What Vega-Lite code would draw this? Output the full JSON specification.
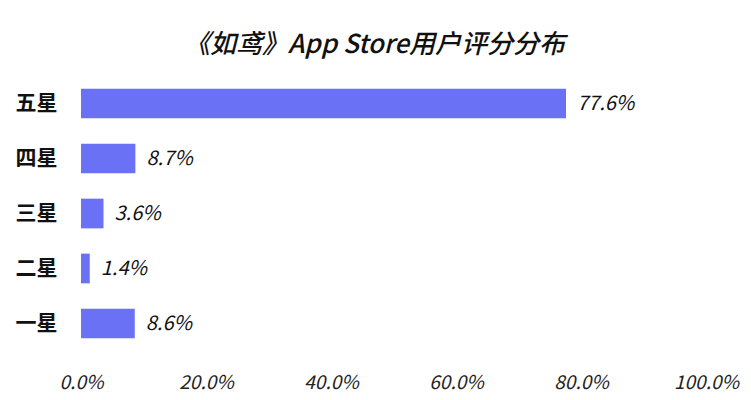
{
  "$schema": "https://vega.github.io/schema/vega-lite/v6.json",
  "width": 625,
  "height": 275,
  "autosize": {"type": "none"},
  "padding": {"left": 81, "top": 76, "right": 45, "bottom": 49},
  "background": "white",
  "title": {
    "text": "《如鸢》App Store用户评分分布",
    "font": "Noto Sans CJK SC",
    "fontSize": 26,
    "fontWeight": 500,
    "fontStyle": "italic",
    "color": "#111111",
    "anchor": "middle",
    "dx": -19,
    "offset": 18
  },
  "data": {
    "values": [
      {"rating": "五星", "share": 0.776},
      {"rating": "四星", "share": 0.087},
      {"rating": "三星", "share": 0.036},
      {"rating": "二星", "share": 0.014},
      {"rating": "一星", "share": 0.086}
    ]
  },
  "encoding": {
    "y": {
      "field": "rating",
      "type": "nominal",
      "sort": ["五星", "四星", "三星", "二星", "一星"],
      "scale": {"paddingInner": 0.46, "paddingOuter": 0.23},
      "axis": {
        "title": null,
        "domain": false,
        "ticks": false,
        "labelPadding": 24,
        "labelFont": "Noto Sans CJK SC",
        "labelFontSize": 21,
        "labelFontWeight": "bold",
        "labelColor": "#111111"
      }
    },
    "x": {
      "field": "share",
      "type": "quantitative",
      "scale": {"domain": [0, 1], "nice": false},
      "axis": {
        "title": null,
        "domain": false,
        "ticks": false,
        "grid": false,
        "values": [0, 0.2, 0.4, 0.6, 0.8, 1],
        "format": ".1%",
        "labelPadding": 22,
        "labelFont": "Noto Sans CJK SC",
        "labelFontSize": 19,
        "labelFontStyle": "italic",
        "labelColor": "#222222",
        "labelFlush": false
      }
    }
  },
  "layer": [
    {"mark": {"type": "bar", "color": "#6a71f4"}},
    {
      "mark": {
        "type": "text",
        "align": "left",
        "baseline": "middle",
        "dx": 11,
        "font": "Noto Sans CJK SC",
        "fontSize": 20,
        "fontStyle": "italic",
        "color": "#111111"
      },
      "encoding": {
        "text": {"field": "share", "type": "quantitative", "format": ".1%"}
      }
    }
  ],
  "config": {"view": {"stroke": null}}
}
